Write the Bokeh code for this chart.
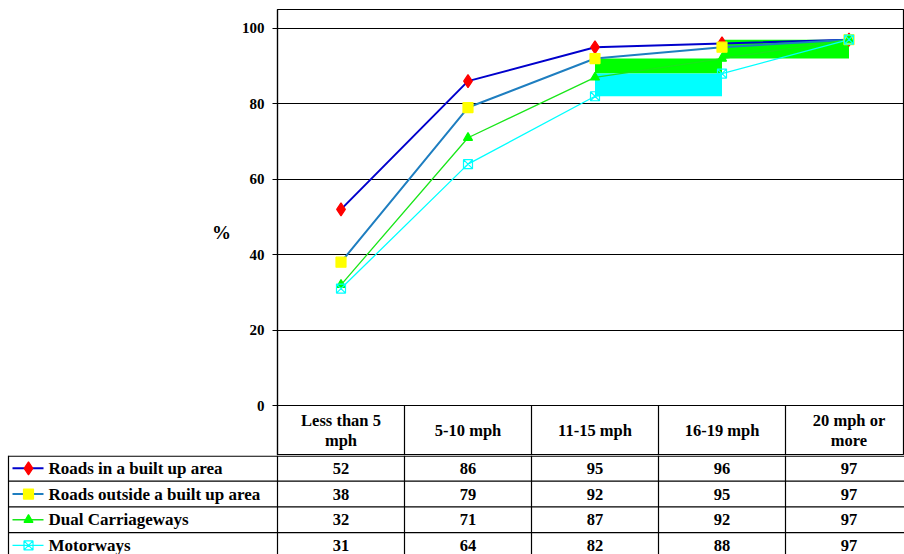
from bokeh.plotting import figure
from bokeh.models import Range1d, FixedTicker
from bokeh.layouts import column
from bokeh.embed import file_html
from bokeh.resources import INLINE
from bokeh.core.properties import value

# ---- data ----
categories = ["Less than 5\nmph", "5-10 mph", "11-15 mph", "16-19 mph", "20 mph or\nmore"]
series_names = ["Roads in a built up area", "Roads outside a built up area",
                "Dual Carriageways", "Motorways"]
built_up = [52, 86, 95, 96, 97]
outside = [38, 79, 92, 95, 97]
dual = [32, 71, 87, 92, 97]
motorways = [31, 64, 82, 88, 97]
y_ticks = [0, 20, 40, 60, 80, 100]
y_label = "%"

# ---- layout constants ----
FONT = value("Liberation Serif")
W, H = 904, 554
LEFT = 277
TOP = 9
ZERO_Y = 405          # pixel row of value 0
HDR = 50              # header row height (px)
YMAX = 105
PPU = (ZERO_Y - TOP) / YMAX   # pixels per y unit
COL_W = 127
XMAX = (W - LEFT) / COL_W
xc = [i + 0.5 for i in range(len(categories))]

styles = [
    dict(line="#0000CC", lw=2.0, marker="diamond", size=13, fill="#FF0000", mline="#FF0000"),
    dict(line="#1E7EC0", lw=2.0, marker="square", size=10, fill="#FFFF00", mline="#FFFF00"),
    dict(line="#19E619", lw=1.3, marker="triangle", size=9, fill="#00FF00", mline="#00FF00"),
    dict(line="#00FFFF", lw=1.3, marker="square_x", size=9, fill=None, mline="#00FFFF"),
]
series = [built_up, outside, dual, motorways]

# ---- chart (with header row of the table inside its frame, below 0) ----
PH = ZERO_Y + HDR
p = figure(width=W, height=PH, x_range=Range1d(0, XMAX), y_range=Range1d(-HDR / PPU, YMAX),
           output_backend="svg", toolbar_location=None, x_axis_location=None,
           min_border_left=LEFT, min_border_right=0, min_border_top=TOP, min_border_bottom=0)
p.frame_align = False
p.outline_line_color = "black"
p.outline_line_width = 1.2
p.xgrid.visible = False
p.ygrid.ticker = FixedTicker(ticks=y_ticks)
p.ygrid.grid_line_color = "black"
p.ygrid.grid_line_width = 1.2
ax = p.yaxis[0]
ax.ticker = FixedTicker(ticks=y_ticks)
ax.minor_tick_line_color = None
ax.major_tick_in = 0
ax.major_tick_out = 5
ax.major_tick_line_color = "black"
ax.axis_line_color = "black"
ax.axis_line_width = 1.2
ax.major_label_text_font = "Liberation Serif"
ax.major_label_text_font_style = "bold"
ax.major_label_text_font_size = "15px"
ax.major_label_text_color = "black"
ax.major_label_standoff = 8
ax.axis_label = y_label
ax.axis_label_orientation = "horizontal"
ax.axis_label_text_font = "Liberation Serif"
ax.axis_label_text_font_style = "bold"
ax.axis_label_text_font_size = "19px"
ax.axis_label_text_color = "black"
ax.axis_label_standoff = 8

# odd filled blocks present in the reference picture
p.quad(left=[xc[2], xc[2], xc[3]], right=[xc[3], xc[3], xc[4]],
       top=[dual[3], motorways[3], dual[4]], bottom=[motorways[3], motorways[2], dual[3]],
       fill_color=["#00FF00", "#00FFFF", "#00FF00"], line_color=None)

for s, st in zip(series, styles):
    p.line(xc, s, line_color=st["line"], line_width=st["lw"])
for s, st in zip(series, styles):
    p.scatter(xc, s, marker=st["marker"], size=st["size"], fill_color=st["fill"],
              line_color=st["mline"], line_width=1.2)

# header row (category labels)
hv = [float(i) for i in range(1, len(categories) + 1)]
p.segment(x0=hv, x1=hv, y0=[-HDR / PPU] * len(hv), y1=[0] * len(hv),
          line_color="black", line_width=1.2)
p.text(x=xc, y=[-HDR / 2 / PPU] * len(categories), text=categories, text_align="center",
       text_baseline="middle", text_font=FONT, text_font_style="bold",
       text_font_size="16.5px", text_color="black", text_line_height=1.1)

# ---- data table rows ----
TH = H - PH
ROW_H = 25.7
LEG_L = (8 - LEFT) / COL_W
t = figure(width=W, height=TH, x_range=Range1d(-LEFT / COL_W, XMAX), y_range=Range1d(TH, 0),
           output_backend="svg", toolbar_location=None, x_axis_location=None, y_axis_location=None,
           min_border=0, min_border_left=0, min_border_right=0, min_border_top=0, min_border_bottom=0)
t.frame_align = False
t.outline_line_color = None
t.grid.visible = False

hy = [0.6] + [k * ROW_H for k in range(1, len(series))]
t.segment(x0=[LEG_L] * len(hy), x1=[XMAX] * len(hy), y0=hy, y1=hy, line_color="black", line_width=1.2)
vx = [LEG_L] + [float(i) for i in range(len(categories) + 1)]
t.segment(x0=vx, x1=vx, y0=[0] * len(vx), y1=[TH] * len(vx), line_color="black", line_width=1.2)

for r, (s, st, name) in enumerate(zip(series, styles, series_names)):
    yc = (r + 0.5) * ROW_H
    t.text(x=xc, y=[yc] * len(s), text=[str(v) for v in s], text_align="center",
           text_baseline="middle", text_font=FONT, text_font_style="bold",
           text_font_size="16.5px", text_color="black")
    lx0 = (12 - LEFT) / COL_W
    lx1 = (43 - LEFT) / COL_W
    mx = (28 - LEFT) / COL_W
    t.segment(x0=[lx0], x1=[lx1], y0=[yc], y1=[yc], line_color=st["line"], line_width=st["lw"])
    t.scatter([mx], [yc], marker=st["marker"], size=st["size"], fill_color=st["fill"],
              line_color=st["mline"], line_width=1.2)
    t.text(x=[(48 - LEFT) / COL_W], y=[yc], text=[name], text_align="left",
           text_baseline="middle", text_font=FONT, text_font_style="bold",
           text_font_size="17px", text_color="black")

layout = column(p, t, spacing=0)
open("out.html", "w").write(file_html(layout, INLINE))
